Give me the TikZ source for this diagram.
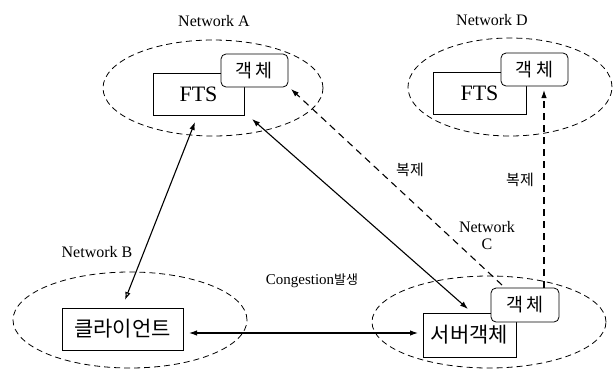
\documentclass[tikz,border=0pt]{standalone}
\usepackage{fontspec}
\setmainfont{Liberation Serif}
\newfontfamily\kr{Noto Sans CJK KR}
\usetikzlibrary{calc,arrows.meta}
\begin{document}
\begin{tikzpicture}[x=1pt,y=-1pt,
  netline/.style={draw,line width=0.8pt,dash pattern=on 6pt off 4pt},
  boxnode/.style={draw,line width=0.8pt,fill=white,inner sep=0pt,outer sep=0pt},
  objbox/.style={boxnode,rounded corners=5pt,minimum width=67pt,minimum height=33pt,font=\kr\fontsize{18.5}{18.5}\selectfont},
  ftsbox/.style={boxnode,minimum height=42pt,font=\fontsize{22}{22}\selectfont,text height=15pt,text depth=-1pt},
  krbox/.style={boxnode,font=\kr\fontsize{21}{21}\selectfont},
  lbl/.style={font=\fontsize{16}{17}\selectfont,inner sep=0pt},
  krlbl/.style={font=\kr\fontsize{15}{15}\selectfont,inner sep=0pt},
  link/.style={line width=1.1pt,-{Latex[length=8pt,width=5.5pt]}},
  dlink/.style={line width=1.1pt,dash pattern=on 7pt off 5pt,-{Latex[length=8pt,width=5.5pt]}},
  biarrow/.style={line width=1.1pt,{Latex[length=8pt,width=5.5pt]}-{Latex[length=8pt,width=5.5pt]}}
]
\useasboundingbox (0,0) rectangle (614,368);
% networks
\draw[netline] (213,88) ellipse [x radius=110pt, y radius=48pt];
\draw[netline] (510,87) ellipse [x radius=102pt, y radius=49pt];
\draw[netline] (130,320) ellipse [x radius=117pt, y radius=48pt];
\draw[netline] (489,322) ellipse [x radius=117pt, y radius=46pt];
% network labels
\node[lbl] (netA) at (214,21) {Network A};
\node[lbl] (netD) at (492,20) {Network D};
\node[lbl] (netB) at (97,252) {Network B};
\node[lbl,align=center] (netC) at (487,236) {Network\\C};
% boxes
\node[ftsbox,minimum width=91pt] (ftsA) at (198.5,94) {FTS};
\node[objbox] (objA) at (254.5,70.5) {객\hspace{3pt}체};
\node[ftsbox,minimum width=93pt] (ftsD) at (479.5,93) {FTS};
\node[objbox] (objD) at (534.5,69.5) {객\hspace{3pt}체};
\node[krbox,minimum width=121pt,minimum height=42pt] (client) at (122.5,329) {클라이언트};
\node[krbox,minimum width=93pt,minimum height=44pt] (server) at (469.5,335) {서버객체};
\node[objbox,minimum width=68pt,minimum height=34pt] (objC) at (525,305) {객\hspace{3pt}체};
% labels
\node[krlbl] (rep1) at (410,170) {복제};
\node[krlbl] (rep2) at (520,180) {복제};
\node[inner sep=0pt] (cong) at (312,281) {\fontsize{15}{15}\selectfont Congestion{\kr\fontsize{13}{13}\selectfont 발생}};
% connectors
\draw[line width=1.1pt,{Latex[length=8pt,width=5.5pt]}-{Latex[open,length=8pt,width=5.5pt]}]
  ($(ftsA.south)+(-3.5,7)$) -- ($(client.north)+(2.5,-8)$);
\draw[biarrow] ($(ftsA.south east)+(8,4)$) -- ($(server.north)+(-1.5,-4)$);
\draw[dlink] ($(objC.north west)+(11,-3)$) -- ($(objA.south east)+(3,2)$);
\draw[dlink] ($(objC.north)+(19,0)$) -- ($(objD.south)+(9.5,4)$);
\draw[biarrow] ($(client.east)+(6,4)$) -- ($(server.west)+(-5,-2)$);
\end{tikzpicture}
\end{document}
